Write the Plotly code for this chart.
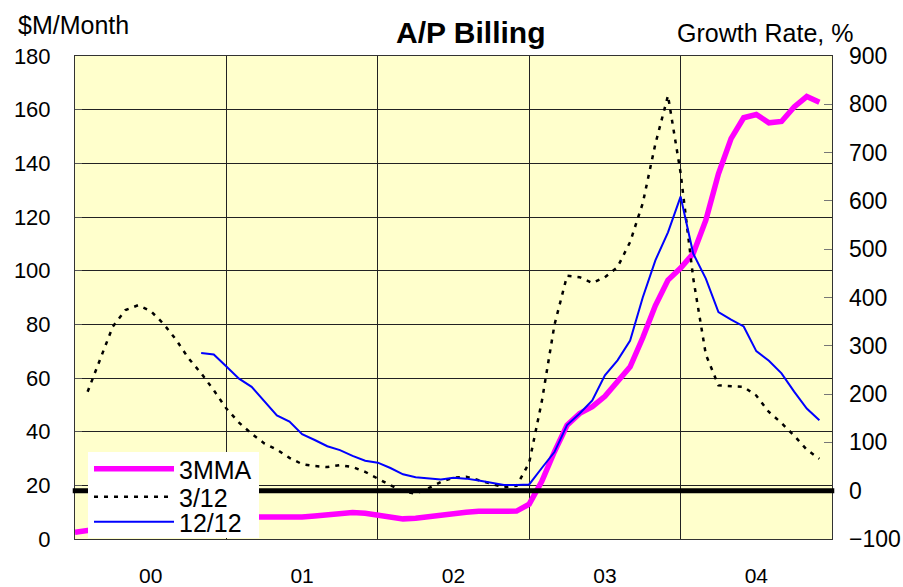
import plotly.graph_objects as go

# ---- data ----
months = list(range(60))
year_labels = ["00", "01", "02", "03", "04"]
year_centers = [6, 18, 30, 42, 54]
year_bounds = [12, 24, 36, 48]

mma_3 = [2.5, 3.2, 4.0, 4.8, 5.5, 6.2, 6.8, 7.2, 7.5, 7.8, 8.0, 8.1, 8.2, 8.2, 8.1,
         8.1, 8.0, 8.0, 8.2, 8.6, 9.2, 9.7, 9.9, 9.6, 8.8, 8.0, 7.5, 7.7, 8.4, 9.0,
         9.6, 10.0, 10.3, 10.4, 10.5, 10.4, 13.0, 21.5, 32.5, 42.4, 46.8, 49.3, 53.2, 58.6, 64.2,
         75.0, 87.0, 96.5, 101.0, 106.4, 118.8, 136.1, 149.2, 157.0, 158.2, 155.1, 155.6, 161.0, 164.9, 162.8]

g_3_12 = [None, 205, 274, 340, 374, 384, 372, 346, 313, 274, 243, 208, 170, 141, 118,
          98, 85, 68, 55, 51, 49, 53, 49, 39, 25, 12, -2, -6, 5, 18,
          27, 29, 22, 14, 7, 10, 58, 185, 343, 445, 442, 430, 442, 463, 515,
          595, 718, 818, 658, 440, 282, 218, 217, 215, 197, 163, 140, 114, 85, 66]

g_12_12 = [None] * 10 + [285, 282, 257, 232, 215,
          186, 156, 143, 117, 105, 92, 84, 72, 62, 58,
          47, 34, 28, 25, 23, 27, 25, 21, 16, 12, 12, 13, 47, 80, 136,
          160, 187, 239, 270, 311, 400, 477, 535, 609, 491, 439, 370, 354, 340, 289, 269, 243, 205, 170, 146]

left_ticks = list(range(0, 181, 20))
right_ticks = list(range(-100, 901, 100))

FONT = "Liberation Sans, Arial, sans-serif"

# plot area in pixels
L, R, T, B = 75, 832, 56, 539
W, H = 903, 587


def px(x):
    return (x - L) / (R - L)


def py(y):
    return (B - y) / (B - T)


fig = go.Figure()
fig.add_trace(go.Scatter(x=months, y=mma_3, name="3MMA", mode="lines", legend="legend",
                         line=dict(color="#FF00FF", width=5.5)))
fig.add_trace(go.Scatter(x=months, y=g_3_12, name="3/12", mode="lines", yaxis="y2", legend="legend2",
                         line=dict(color="black", width=2.5, dash="4px,6px")))
fig.add_trace(go.Scatter(x=months, y=g_12_12, name="12/12", mode="lines", yaxis="y2", legend="legend3",
                         line=dict(color="#0000FF", width=2)))

# zero growth reference line
fig.add_shape(type="line", xref="paper", yref="y2", x0=-0.003, x1=1.003, y0=0, y1=0,
              line=dict(color="black", width=5), layer="above")
# legend background box
fig.add_shape(type="rect", xref="paper", yref="paper", x0=px(88), x1=px(259), y0=py(538), y1=py(452),
              fillcolor="white", line=dict(width=0), layer="above")

leg_common = dict(xanchor="left", yanchor="middle", bgcolor="rgba(0,0,0,0)", borderwidth=0,
                  font=dict(size=25, family=FONT), itemwidth=80)

fig.update_layout(
    width=W, height=H,
    margin=dict(l=L, r=W - R, t=T, b=H - B, autoexpand=False),
    paper_bgcolor="white",
    plot_bgcolor="#FFFFCC",
    font=dict(family=FONT, color="black", size=21),
    xaxis=dict(range=[0, 60], tickmode="array", tickvals=year_centers, ticktext=year_labels,
               showgrid=False, ticks="", zeroline=False, automargin=False,
               showline=True, mirror=True, linecolor="#333", linewidth=1,
               minor=dict(tickmode="array", tickvals=year_bounds, showgrid=True,
                          gridcolor="#222", gridwidth=1, ticks=""),
               ticklabelstandoff=18, tickfont=dict(size=21)),
    yaxis=dict(range=[0, 180], tickmode="array", tickvals=left_ticks,
               showgrid=True, gridcolor="#222", gridwidth=1, zeroline=False, automargin=False,
               showline=True, mirror=True, linecolor="#333", linewidth=1,
               ticks="inside", ticklen=7, tickcolor="#555",
               ticklabelstandoff=19, tickfont=dict(size=22)),
    yaxis2=dict(range=[-100, 900], tickmode="array", tickvals=right_ticks,
                overlaying="y", side="right", showgrid=False, zeroline=False, automargin=False,
                ticks="inside", ticklen=8, tickcolor="#777",
                ticklabelstandoff=16, tickfont=dict(size=23)),
    legend=dict(x=px(89), y=py(469), **leg_common),
    legend2=dict(x=px(89), y=py(497), **leg_common),
    legend3=dict(x=px(89), y=py(522), **leg_common),
    showlegend=True,
    annotations=[
        dict(text="<b>A/P Billing</b>", xref="paper", yref="paper", x=px(470), y=py(33),
             xanchor="center", yanchor="middle", showarrow=False, font=dict(size=30)),
        dict(text="$M/Month", xref="paper", yref="paper", x=px(16), y=py(25),
             xanchor="left", yanchor="middle", showarrow=False, font=dict(size=25)),
        dict(text="Growth Rate, %", xref="paper", yref="paper", x=px(675), y=py(33),
             xanchor="left", yanchor="middle", showarrow=False, font=dict(size=25)),
    ],
)

fig.write_html("out.html", config={"displayModeBar": False},
               post_script="document.body.style.margin='0px';document.body.style.padding='0px';")
